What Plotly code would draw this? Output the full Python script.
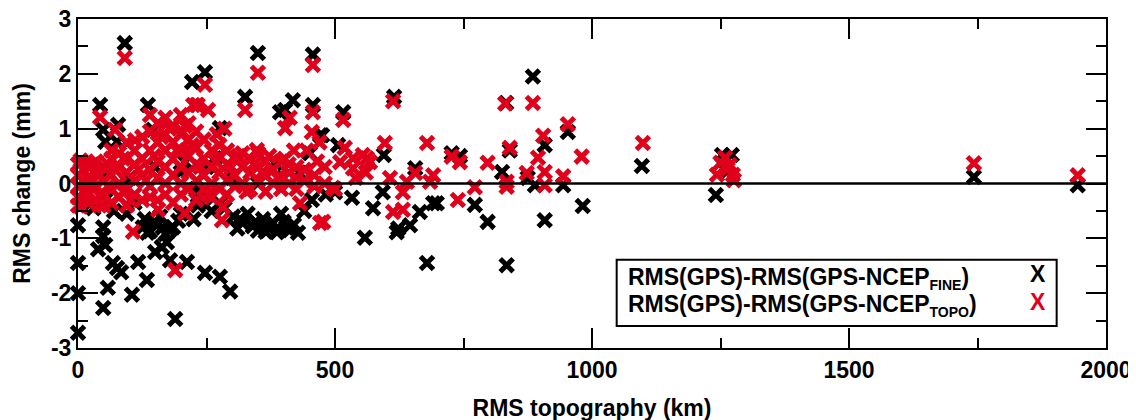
import plotly.graph_objects as go

# ---------------- data ----------------
# Black series: RMS(GPS)-RMS(GPS-NCEP_FINE)
fine_x = [91, 43, 136, 222, 247, 78, 53, 76, 49, 95, 146, 276, 325, 350, 418, 403, 393, 457, 457,
          516, 615, 885, 833, 953, 908, 840, 825, 875, 889, 944, 743, 727, 595, 656, 1097, 1253,
          1272, 1262, 1743, 1945, 1241, 506, 471, 451, 475, 383, 266, 20, 208,
          0, 0, 0, 0, 23, 53, 49, 49, 53, 39, 76, 68, 84, 58, 49, 117, 134, 105, 189, 179, 212,
          150, 163, 173, 247, 276, 296,
          126, 140, 155, 170, 185, 130, 160, 195, 135, 148, 165, 178,
          302, 320, 340, 360, 380, 395, 387, 412, 428, 310, 350, 330, 370, 400,
          315, 345, 365, 405, 420,
          237, 237, 276, 247, 230, 233,
          500, 533, 558, 574, 593, 620, 623, 646, 665, 698, 691, 679, 772, 797, 834, 908, 982,
          482, 455,
          30, 70, 95, 110, 200, 225, 260, 285, 440, 20, 60, 100, 150, 200, 250, 300, 350, 400, 430]
fine_y = [2.56, 1.43, 1.43, 1.85, 2.03, 1.07, 0.76, 0.76, 0.98, 0.74, 0.98, 1.01, 1.58, 2.38, 1.52,
          1.34, 1.30, 2.35, 1.43, 1.30, 1.58, 1.95, 1.47, 0.94, 0.70, 0.60, 0.21, 0.10, -0.03,
          -0.03, 0.50, 0.55, 0.52, 0.28, 0.32, 0.52, 0.52, 0.21, 0.12, -0.03, -0.21, 0.70, 0.88,
          0.55, 0.88, 0.37, 0.46, 0.34, 0.39,
          -0.76, -1.45, -2.00, -2.72, -0.38, -0.30, -0.80, -0.96, -1.12, -1.20, -1.54, -1.45,
          -1.62, -1.90, -2.27, -1.43, -1.76, -2.03, -2.47, -1.40, -1.43,
          -1.25, -1.16, -1.07, -1.63, -1.70, -1.97,
          -0.80, -0.87, -0.75, -0.92, -0.80, -0.65, -0.60, -0.68, -0.90, -0.70, -0.80, -0.85,
          -0.60, -0.72, -0.78, -0.65, -0.72, -0.55, -0.89, -0.85, -0.90, -0.82, -0.86, -0.55,
          -0.80, -0.70,
          -0.65, -0.70, -0.88, -0.80, -0.75,
          -0.34, -0.18, -0.36, -0.25, -0.10, -0.40,
          -0.16, -0.26, -0.99, -0.45, -0.16, -0.89, -0.82, -0.76, -0.52, -0.36, -0.36, -1.45,
          -0.39, -0.70, -1.49, -0.67, -0.41,
          -0.20, -0.30,
          -0.45, -0.50, -0.55, -0.35, -0.55, -0.65, -0.50, -0.45, -0.50, 0.10, 0.20, 0.10, 0.30,
          0.20, 0.30, 0.10, 0.00, 0.10, 0.20]

# Red series: RMS(GPS)-RMS(GPS-NCEP_TOPO)
topo_x = [457, 457, 455, 471, 477, 516, 519, 535, 554, 568, 500, 540, 560, 597, 607, 613, 632, 613,
          632, 640, 656, 679, 685, 691, 727, 739, 743, 772, 797, 831, 840, 834, 834, 873, 885, 895,
          905, 908, 908, 944, 953, 980, 1099, 1243, 1259, 1268, 1274, 1276, 1264, 1250, 1743, 1945,
          496, 510, 535, 562,
          0, 0, 0, 0, 0, 10, 10, 10, 20, 20, 20, 20, 35, 35, 35, 35, 50, 50, 50, 50,
          65, 65, 65, 65, 65, 80, 80, 80, 80, 95, 95, 95, 95, 95, 110, 110, 110, 110,
          125, 125, 125, 125, 140, 140, 140, 140, 140, 155, 155, 155, 155, 155,
          170, 170, 170, 170, 170, 170, 185, 185, 185, 185, 185, 200, 200, 200, 200, 200, 200,
          215, 215, 215, 215, 215, 230, 230, 230, 230, 230, 245, 245, 245, 245,
          260, 260, 260, 260, 275, 275, 275, 275, 290, 290, 290, 290, 305, 305, 305,
          320, 320, 320, 335, 335, 335, 350, 350, 350, 365, 365, 365, 380, 380,
          395, 395, 395, 410, 410, 410, 425, 425, 425, 440, 440, 460, 460, 480, 480,
          445, 470, 465, 420, 285, 270,
          5, 5, 15, 28, 28, 42, 42, 58, 58, 72, 88, 88, 102, 118, 132, 148, 162, 178, 192, 208,
          222, 238, 252, 268, 298, 312, 328, 342, 358, 372, 388, 402,
          204, 111, 72, 43, 91, 140, 224, 231, 247, 233, 253, 325, 350, 348, 403, 412,
          107, 156, 208, 189, 280, 282, 432]
topo_y = [2.16, 1.30, 0.94, -0.72, -0.70, 1.16, 0.65, 0.28, 0.52, 0.39, -0.10, 0.10, 0.20, 0.74,
          0.10, 1.50, -0.16, -0.52, -0.48, 0.03, 0.19, 0.74, 0.03, 0.15, 0.49, -0.30, 0.39, -0.07,
          0.38, 1.46, 0.65, 0.03, -0.06, 0.19, 1.47, 0.47, 0.87, 0.21, -0.03, 0.13, 1.08, 0.49,
          0.74, 0.16, 0.47, 0.34, 0.16, 0.06, 0.27, 0.38, 0.37, 0.15,
          -0.08, 0.39, 0.46, 0.46,
          0.35, 0.15, -0.05, -0.25, -0.40, 0.25, -0.15, 0.05, 0.30, 0.10, -0.20, -0.35,
          0.20, -0.05, -0.30, 0.40, 0.30, 0.05, -0.20, -0.40,
          0.45, 0.15, -0.10, -0.35, 0.60, 0.30, 0.00, -0.25, 0.55, 0.20, -0.10, -0.40, 0.45, 0.75,
          0.35, 0.05, -0.20, 0.60,
          0.15, -0.30, 0.45, 0.85, 0.25, -0.05, 0.60, 0.95, -0.25, 0.10, 0.40, 0.75, 1.10, -0.30,
          0.30, 0.00, 0.60, 0.90, 1.20, -0.20, 0.15, 0.45, 0.75, 1.05, -0.35,
          0.30, 0.00, 0.60, 0.90, 1.25, -0.20,
          0.20, 0.50, 0.80, 1.10, -0.10, 0.35, 0.05, 0.65, 0.95, -0.30, 0.15, 0.45, 0.80, -0.10,
          0.30, 0.00, 0.60, -0.25, 0.20, 0.50, -0.10, 0.70, 0.35, 0.05, 0.60, -0.20,
          0.15, 0.45, -0.05,
          0.30, 0.00, 0.55, 0.20, 0.45, -0.10, 0.05, 0.30, 0.55, 0.15, 0.40, -0.15, 0.25, 0.00,
          0.10, 0.40, -0.10, 0.20, 0.00, 0.35, 0.10, 0.30, -0.10, 0.05, 0.25, 0.15, -0.05,
          0.30, 0.00,
          0.60, 0.75, 0.40, 0.60, 1.00, 0.90,
          0.42, -0.42, 0.00, 0.35, -0.10, 0.15, -0.40, 0.35, -0.05, 0.25, 0.45, -0.15, -0.30,
          0.25, 0.05, 0.50, 0.85, 1.00, 0.60, 1.05, 0.70, 0.30, -0.20, 0.40, 0.30, 0.50, -0.15,
          0.35, 0.20, 0.50, 0.10, 0.45,
          0.94, 0.79, 0.98, 1.21, 2.29, 1.25, 1.43, 1.43, 1.80, 1.43, 1.34, 1.34, 2.02, 0.61,
          1.01, 1.20,
          -0.88, -0.48, -0.54, -1.58, -0.67, -0.43, -0.36]

x_tickvals = [0, 500, 1000, 1500, 2000]
x_ticktext = ["0", "500", "1000", "1500", "2000"]
y_tickvals = [-3, -2, -1, 0, 1, 2, 3]
y_ticktext = ["-3", "-2", "-1", "0", "1", "2", "3"]

legend_fine = "RMS(GPS)-RMS(GPS-NCEP<sub><span style='font-size:14px'>FINE</span></sub>)"
legend_topo = "RMS(GPS)-RMS(GPS-NCEP<sub><span style='font-size:14px'>TOPO</span></sub>)"

# ---------------- styling ----------------
BLACK = "#000000"
RED = "#E0001B"
FONT = "Liberation Sans"
FS = 23

marker_common = dict(symbol="x-thin", size=13)

fig = go.Figure()
fig.add_trace(go.Scatter(
    x=fine_x, y=fine_y, mode="markers", name=legend_fine, cliponaxis=False,
    marker=dict(**marker_common, color=BLACK, line=dict(color=BLACK, width=5)),
))
fig.add_trace(go.Scatter(
    x=topo_x, y=topo_y, mode="markers", name=legend_topo, cliponaxis=False,
    marker=dict(**marker_common, color=RED, line=dict(color=RED, width=5)),
))

axis_common = dict(
    showline=True, linecolor=BLACK, linewidth=2, mirror="allticks",
    ticks="inside", tickcolor=BLACK, tickwidth=2, ticklen=20,
    showgrid=False, zeroline=False, automargin=False, ticklabeloverflow="allow",
    tickfont=dict(family=FONT, size=FS, color=BLACK, weight="bold"),
)

# the page adds an 8 px offset, so margins are set 8 px smaller on the left/top
fig.update_layout(
    width=1136, height=420,
    margin=dict(l=70, r=38, t=11, b=80),
    paper_bgcolor="white", plot_bgcolor="white",
    showlegend=False,
    xaxis=dict(
        **axis_common, range=[0, 2000],
        tickmode="array", tickvals=x_tickvals, ticktext=x_ticktext,
        minor=dict(dtick=250, ticklen=10, tickwidth=2, tickcolor=BLACK, ticks="inside"),
        title=dict(text="RMS topography (km)", standoff=18,
                   font=dict(family=FONT, size=FS, color=BLACK, weight="bold")),
    ),
    yaxis=dict(
        **axis_common, range=[-3, 3],
        tickmode="array", tickvals=y_tickvals, ticktext=y_ticktext,
        minor=dict(dtick=0.5, ticklen=10, tickwidth=2, tickcolor=BLACK, ticks="inside"),
        title=dict(text="RMS change (mm)", standoff=14,
                   font=dict(family=FONT, size=FS, color=BLACK, weight="bold")),
    ),
)

# zero reference line on top of markers
fig.add_shape(type="line", xref="paper", yref="y", x0=0, x1=1, y0=0, y1=0,
              line=dict(color=BLACK, width=2.5), layer="above")

# legend box (drawn manually so the symbols sit on the right, as in the reference)
fig.add_shape(type="rect", xref="paper", yref="paper", x0=0.524, x1=0.952, y0=0.067, y1=0.268,
              line=dict(color=BLACK, width=2), fillcolor="white", layer="above")
for text, colr, ypos in [(legend_fine, BLACK, 0.212), (legend_topo, RED, 0.128)]:
    fig.add_annotation(xref="paper", yref="paper", x=0.533, y=ypos, xanchor="left",
                       yanchor="middle", showarrow=False, text=text,
                       font=dict(family=FONT, size=FS, color=BLACK, weight="bold"))
    fig.add_annotation(xref="paper", yref="paper", x=0.934, y=ypos + 0.012, xanchor="center",
                       yanchor="middle", showarrow=False, text="X",
                       font=dict(family=FONT, size=FS, color=colr, weight="bold"))

fig.write_html("out.html")
